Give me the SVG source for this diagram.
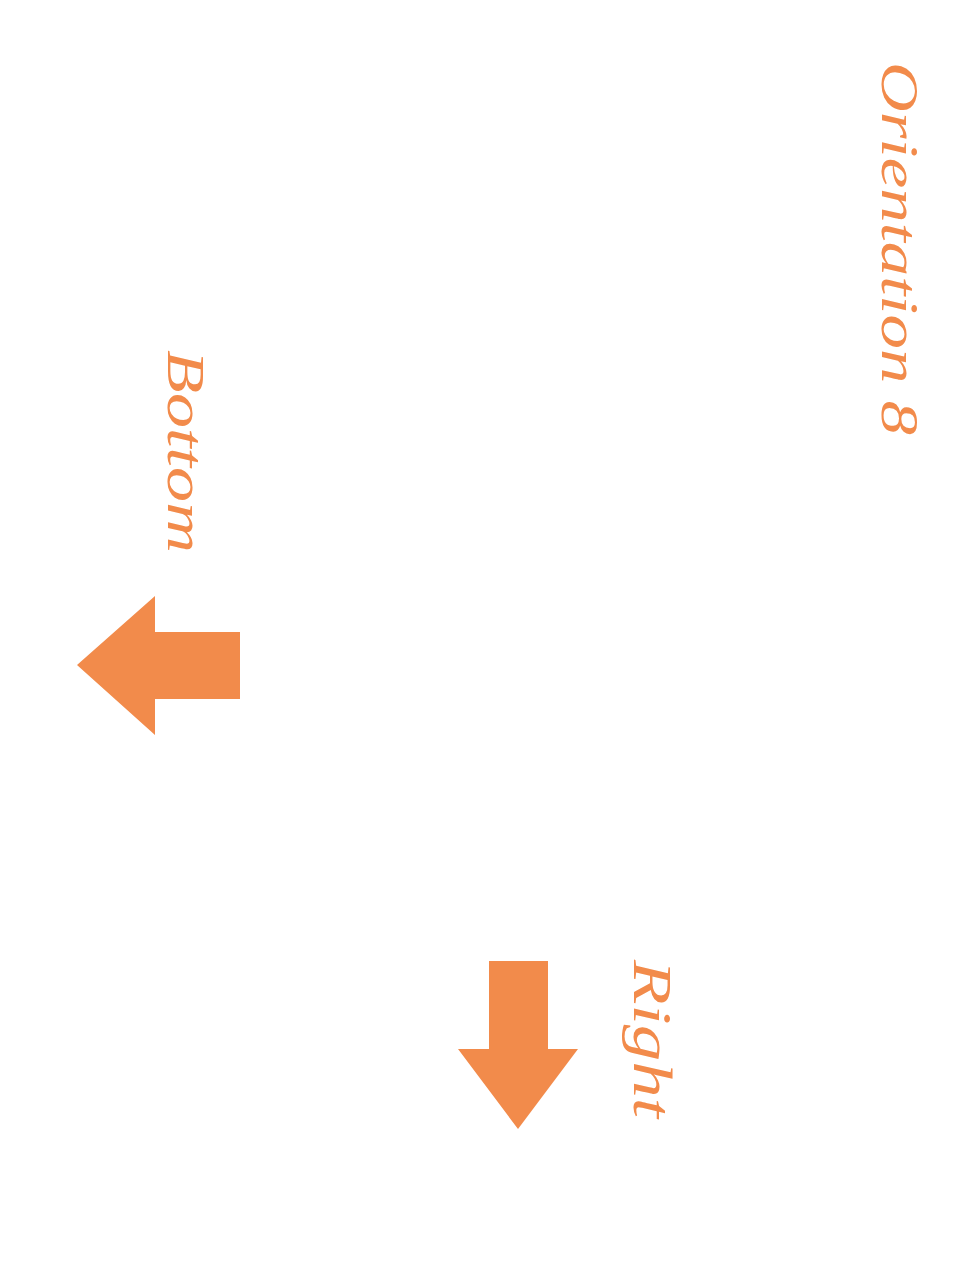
<svg xmlns="http://www.w3.org/2000/svg" width="960" height="1280" viewBox="0 0 960 1280">
<style>
.lbl{font-family:"Liberation Serif","DejaVu Serif",serif;font-style:italic;fill:#F28B4B}
.arr{fill:#F28B4B}
</style>
<rect width="960" height="1280" fill="#FFFFFF"/>
<g id="title">
<text class="lbl" transform="translate(882,62) rotate(90)" font-size="52" textLength="373" lengthAdjust="spacingAndGlyphs">Orientation 8</text>
</g>
<g id="bottom">
<text class="lbl" transform="translate(168,350) rotate(90)" font-size="52" textLength="203" lengthAdjust="spacingAndGlyphs">Bottom</text>
<polygon class="arr" points="77,665 155,596 155,632 240,632 240,699 155,699 155,735"/>
</g>
<g id="right">
<text class="lbl" transform="translate(634,960) rotate(90)" font-size="55" textLength="158" lengthAdjust="spacingAndGlyphs">Right</text>
<polygon class="arr" points="489,961 548,961 548,1049 578,1049 518,1129 458,1049 489,1049"/>
</g>
<g id="connectors"></g>
</svg>
